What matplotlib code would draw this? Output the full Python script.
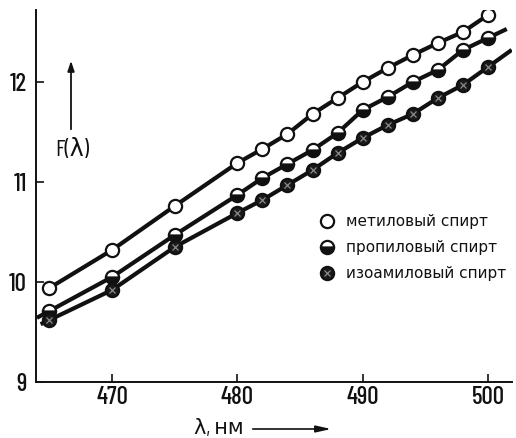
import numpy as np
import matplotlib
matplotlib.use("Agg")
import matplotlib.pyplot as plt

plt.rcParams['font.family'] = ['DejaVu Sans']
NARROW = ['Barlow Condensed', 'DejaVu Sans']

# Data
wl_methyl = [465, 470, 475, 480, 482, 484, 486, 488, 490, 492, 494, 496, 498, 500]
f_methyl = [9.94, 10.32, 10.76, 11.19, 11.33, 11.48, 11.68, 11.84, 12.00, 12.14, 12.27, 12.39, 12.50, 12.67]

wl_propyl = [465, 470, 475, 480, 482, 484, 486, 488, 490, 492, 494, 496, 498, 500]
f_propyl = [9.71, 10.05, 10.47, 10.87, 11.04, 11.18, 11.32, 11.49, 11.72, 11.85, 12.00, 12.12, 12.32, 12.44]

wl_iso = [465, 470, 475, 480, 482, 484, 486, 488, 490, 492, 494, 496, 498, 500]
f_iso = [9.62, 9.92, 10.35, 10.69, 10.82, 10.97, 11.12, 11.29, 11.44, 11.57, 11.68, 11.84, 11.97, 12.15]

labels = ['метиловый спирт', 'пропиловый спирт', 'изоамиловый спирт']
xticks = [470, 480, 490, 500]
yticks = [9, 10, 11, 12]

# line extents beyond the points (nm)
ext_propyl = (464.0, 501.5)
ext_iso = (464.3, 501.9)


def extended(x, y, ext):
    x = list(x); y = list(y)
    if ext is None:
        return x, y
    x0, x1 = ext
    s0 = (y[1] - y[0]) / (x[1] - x[0])
    s1 = (y[-1] - y[-2]) / (x[-1] - x[-2])
    return [x0] + x + [x1], [y[0] + s0 * (x0 - x[0])] + y + [y[-1] + s1 * (x1 - x[-1])]


fig = plt.figure(figsize=(5.16, 4.38), dpi=100)
ax = fig.add_axes([36 / 516, 56 / 438, 476 / 516, 372 / 438])

ink = '#111111'
lw = 3.0
ms = 9.5

xm, ym = extended(wl_methyl, f_methyl, None)
ax.plot(xm, ym, '-', color=ink, lw=lw, zorder=2, solid_capstyle='butt')
h1, = ax.plot(wl_methyl, f_methyl, 'o', ms=ms, mfc='white', mec=ink, mew=1.6, zorder=3, ls='none')

xp, yp = extended(wl_propyl, f_propyl, ext_propyl)
ax.plot(xp, yp, '-', color=ink, lw=lw, zorder=2, solid_capstyle='butt')
h2, = ax.plot(wl_propyl, f_propyl, 'o', ms=ms, mfc=ink, mfcalt='white', fillstyle='bottom',
              mec=ink, mew=1.6, zorder=3, ls='none')

xi, yi = extended(wl_iso, f_iso, ext_iso)
ax.plot(xi, yi, '-', color=ink, lw=lw, zorder=2, solid_capstyle='butt')
h3, = ax.plot(wl_iso, f_iso, 'o', ms=ms, mfc='#1a1a1a', mec=ink, mew=1.6, zorder=3, ls='none')
h3b, = ax.plot(wl_iso, f_iso, 'x', ms=4, mec='#8a8a8a', mew=0.9, zorder=4, ls='none')

ax.set_xlim(463.93, 501.92)
ax.set_ylim(9, 12.72)
ax.set_xticks(xticks)
ax.set_yticks(yticks)
ax.set_xticklabels([str(v) for v in xticks])
ax.set_yticklabels([str(v) for v in yticks])
for s in ['top', 'right']:
    ax.spines[s].set_visible(False)
for s in ['left', 'bottom']:
    ax.spines[s].set_linewidth(1.4)
    ax.spines[s].set_color(ink)
ax.tick_params(axis='both', direction='in', length=6, width=1.2, color=ink,
               labelsize=18, labelcolor=ink)
ax.tick_params(axis='y', pad=6.5)
ax.tick_params(axis='x', pad=3)
for t in ax.get_xticklabels() + ax.get_yticklabels():
    t.set_family(NARROW)
    t.set_weight(500)

# y label with arrow
ax.annotate('', xy=(71 / 516, 1 - 58 / 438), xytext=(71 / 516, 1 - 132 / 438),
            xycoords='figure fraction', textcoords='figure fraction',
            arrowprops=dict(arrowstyle='-|>,head_length=0.6,head_width=0.2', color=ink, lw=1.3))
fig.text(72 / 516, 1 - 151 / 438, 'F(λ)', ha='center', va='center', fontsize=17,
         color=ink, family=NARROW)

# x label with arrow
fig.text(219 / 516, 1 - 428 / 438, 'λ, нм', ha='center', va='center', fontsize=15,
         color=ink, family=NARROW)
ax.annotate('', xy=(334 / 516, 1 - 429 / 438), xytext=(250 / 516, 1 - 429 / 438),
            xycoords='figure fraction', textcoords='figure fraction',
            arrowprops=dict(arrowstyle='-|>,head_length=0.9,head_width=0.2', color=ink, lw=1.2))

leg = ax.legend([h1, h2, (h3, h3b)], labels, loc='upper left',
                bbox_to_anchor=(319 / 516, 1 - 214 / 438), bbox_transform=fig.transFigure,
                frameon=False, fontsize=11, handlelength=1.0, handletextpad=0.75,
                labelspacing=0.72, borderpad=0, borderaxespad=0)
for t in leg.get_texts():
    t.set_color(ink)

fig.savefig('out.png', dpi=100)
